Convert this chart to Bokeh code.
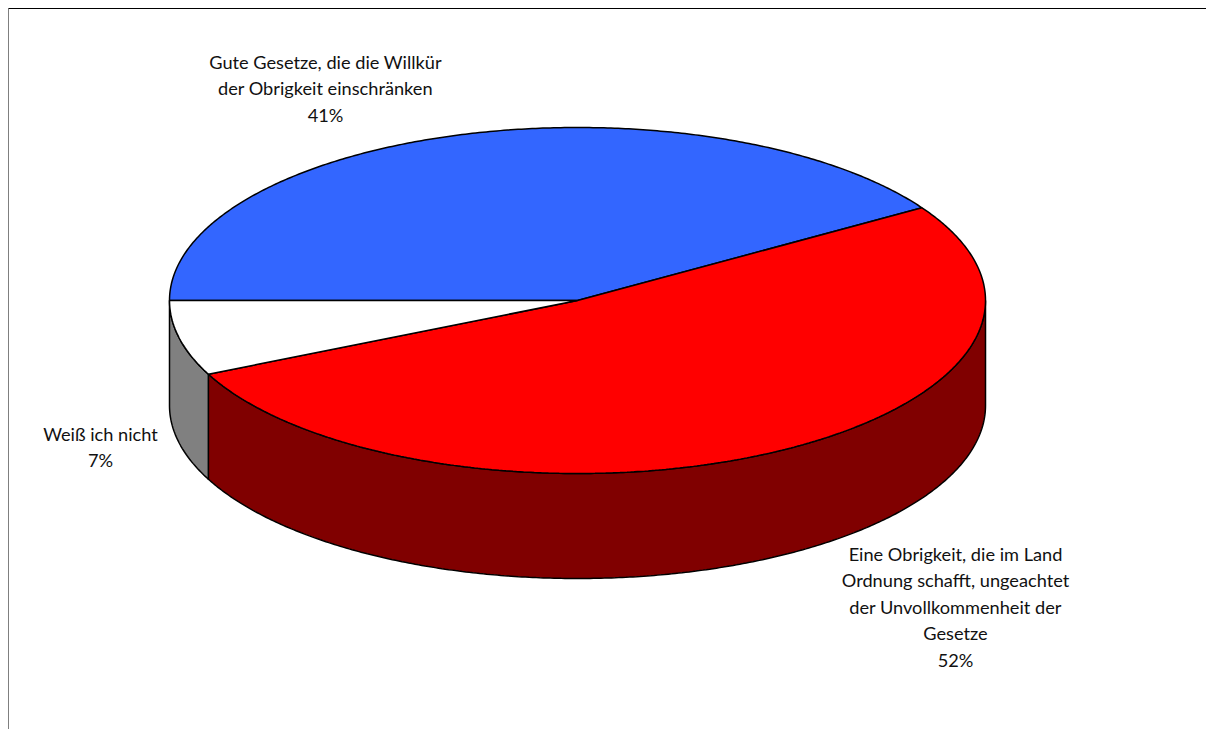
import numpy as np
from bokeh.core.properties import value
from bokeh.embed import file_html
from bokeh.models import Range1d
from bokeh.plotting import figure
from bokeh.resources import INLINE

# Survey shares, clockwise from the nine o'clock position
categories = ["Gute Gesetze", "Eine Obrigkeit", "Weiß ich nicht"]
shares = [41, 52, 7]
top_colors = ["#3366FF", "#FF0000", "#FFFFFF"]
wall_colors = ["#1A3380", "#800000", "#808080"]

label_lines = [
    ["Gute Gesetze, die die Willkür", "der Obrigkeit einschränken", "41%"],
    ["Eine Obrigkeit, die im Land", "Ordnung schafft, ungeachtet",
     "der Unvollkommenheit der", "Gesetze", "52%"],
    ["Weiß ich nicht", "7%"],
]
label_centers = [(325, 61), (955, 553), (100, 433)]
LINE_STEP = 26.5
FONT = "Lato"
FONT_SIZE = "18.2px"

# Disc geometry in page pixels
CX, CY, RX, RY, DEPTH = 577, 300, 408, 173, 105
W, H = 1206, 729

p = figure(width=W, height=H, output_backend="svg", toolbar_location=None,
           x_range=Range1d(0, W), y_range=Range1d(H, 0),
           min_border=0, outline_line_color=None, background_fill_color="white",
           border_fill_color="white")
p.axis.visible = False
p.grid.visible = False

# Chart frame: only the top and left edges are in view
p.line([8, 8], [H, 8], line_color="#7f7f7f", line_width=1)
p.line([8, W], [8, 8], line_color="#000000", line_width=1)


def arc(a0, a1, dy=0.0):
    steps = max(int(abs(a1 - a0)), 2) * 2
    t = np.radians(np.linspace(a0, a1, steps))
    return CX + RX * np.cos(t), CY - RY * np.sin(t) + dy


# Slice angles in degrees, running clockwise from 180
edges = 180 - np.cumsum([0] + shares) * 3.6

# Side walls: only the stretch of each slice on the front half (0 to -180) shows
for i in range(len(shares)):
    start, stop = min(edges[i], 0), max(edges[i + 1], -180)
    if start <= stop:
        continue
    xs_top, ys_top = arc(start, stop)
    xs_bot, ys_bot = arc(stop, start, DEPTH)
    p.patch(np.r_[xs_top, xs_bot], np.r_[ys_top, ys_bot],
            fill_color=wall_colors[i], line_color="black", line_width=1.5)

# Top faces
for i in range(len(shares)):
    xs, ys = arc(edges[i], edges[i + 1])
    p.patch(np.r_[CX, xs], np.r_[CY, ys], fill_color=top_colors[i],
            line_color="black", line_width=1.5)

# Category labels, one text item per line
for lines, (lx, ly) in zip(label_lines, label_centers):
    for k, line in enumerate(lines):
        p.text([lx], [ly + k * LINE_STEP], text=[line], text_align="center",
               text_baseline="middle", text_color="#111111",
               text_font=value(FONT), text_font_size=value(FONT_SIZE))

open("out.html", "w").write(file_html(p, INLINE))
